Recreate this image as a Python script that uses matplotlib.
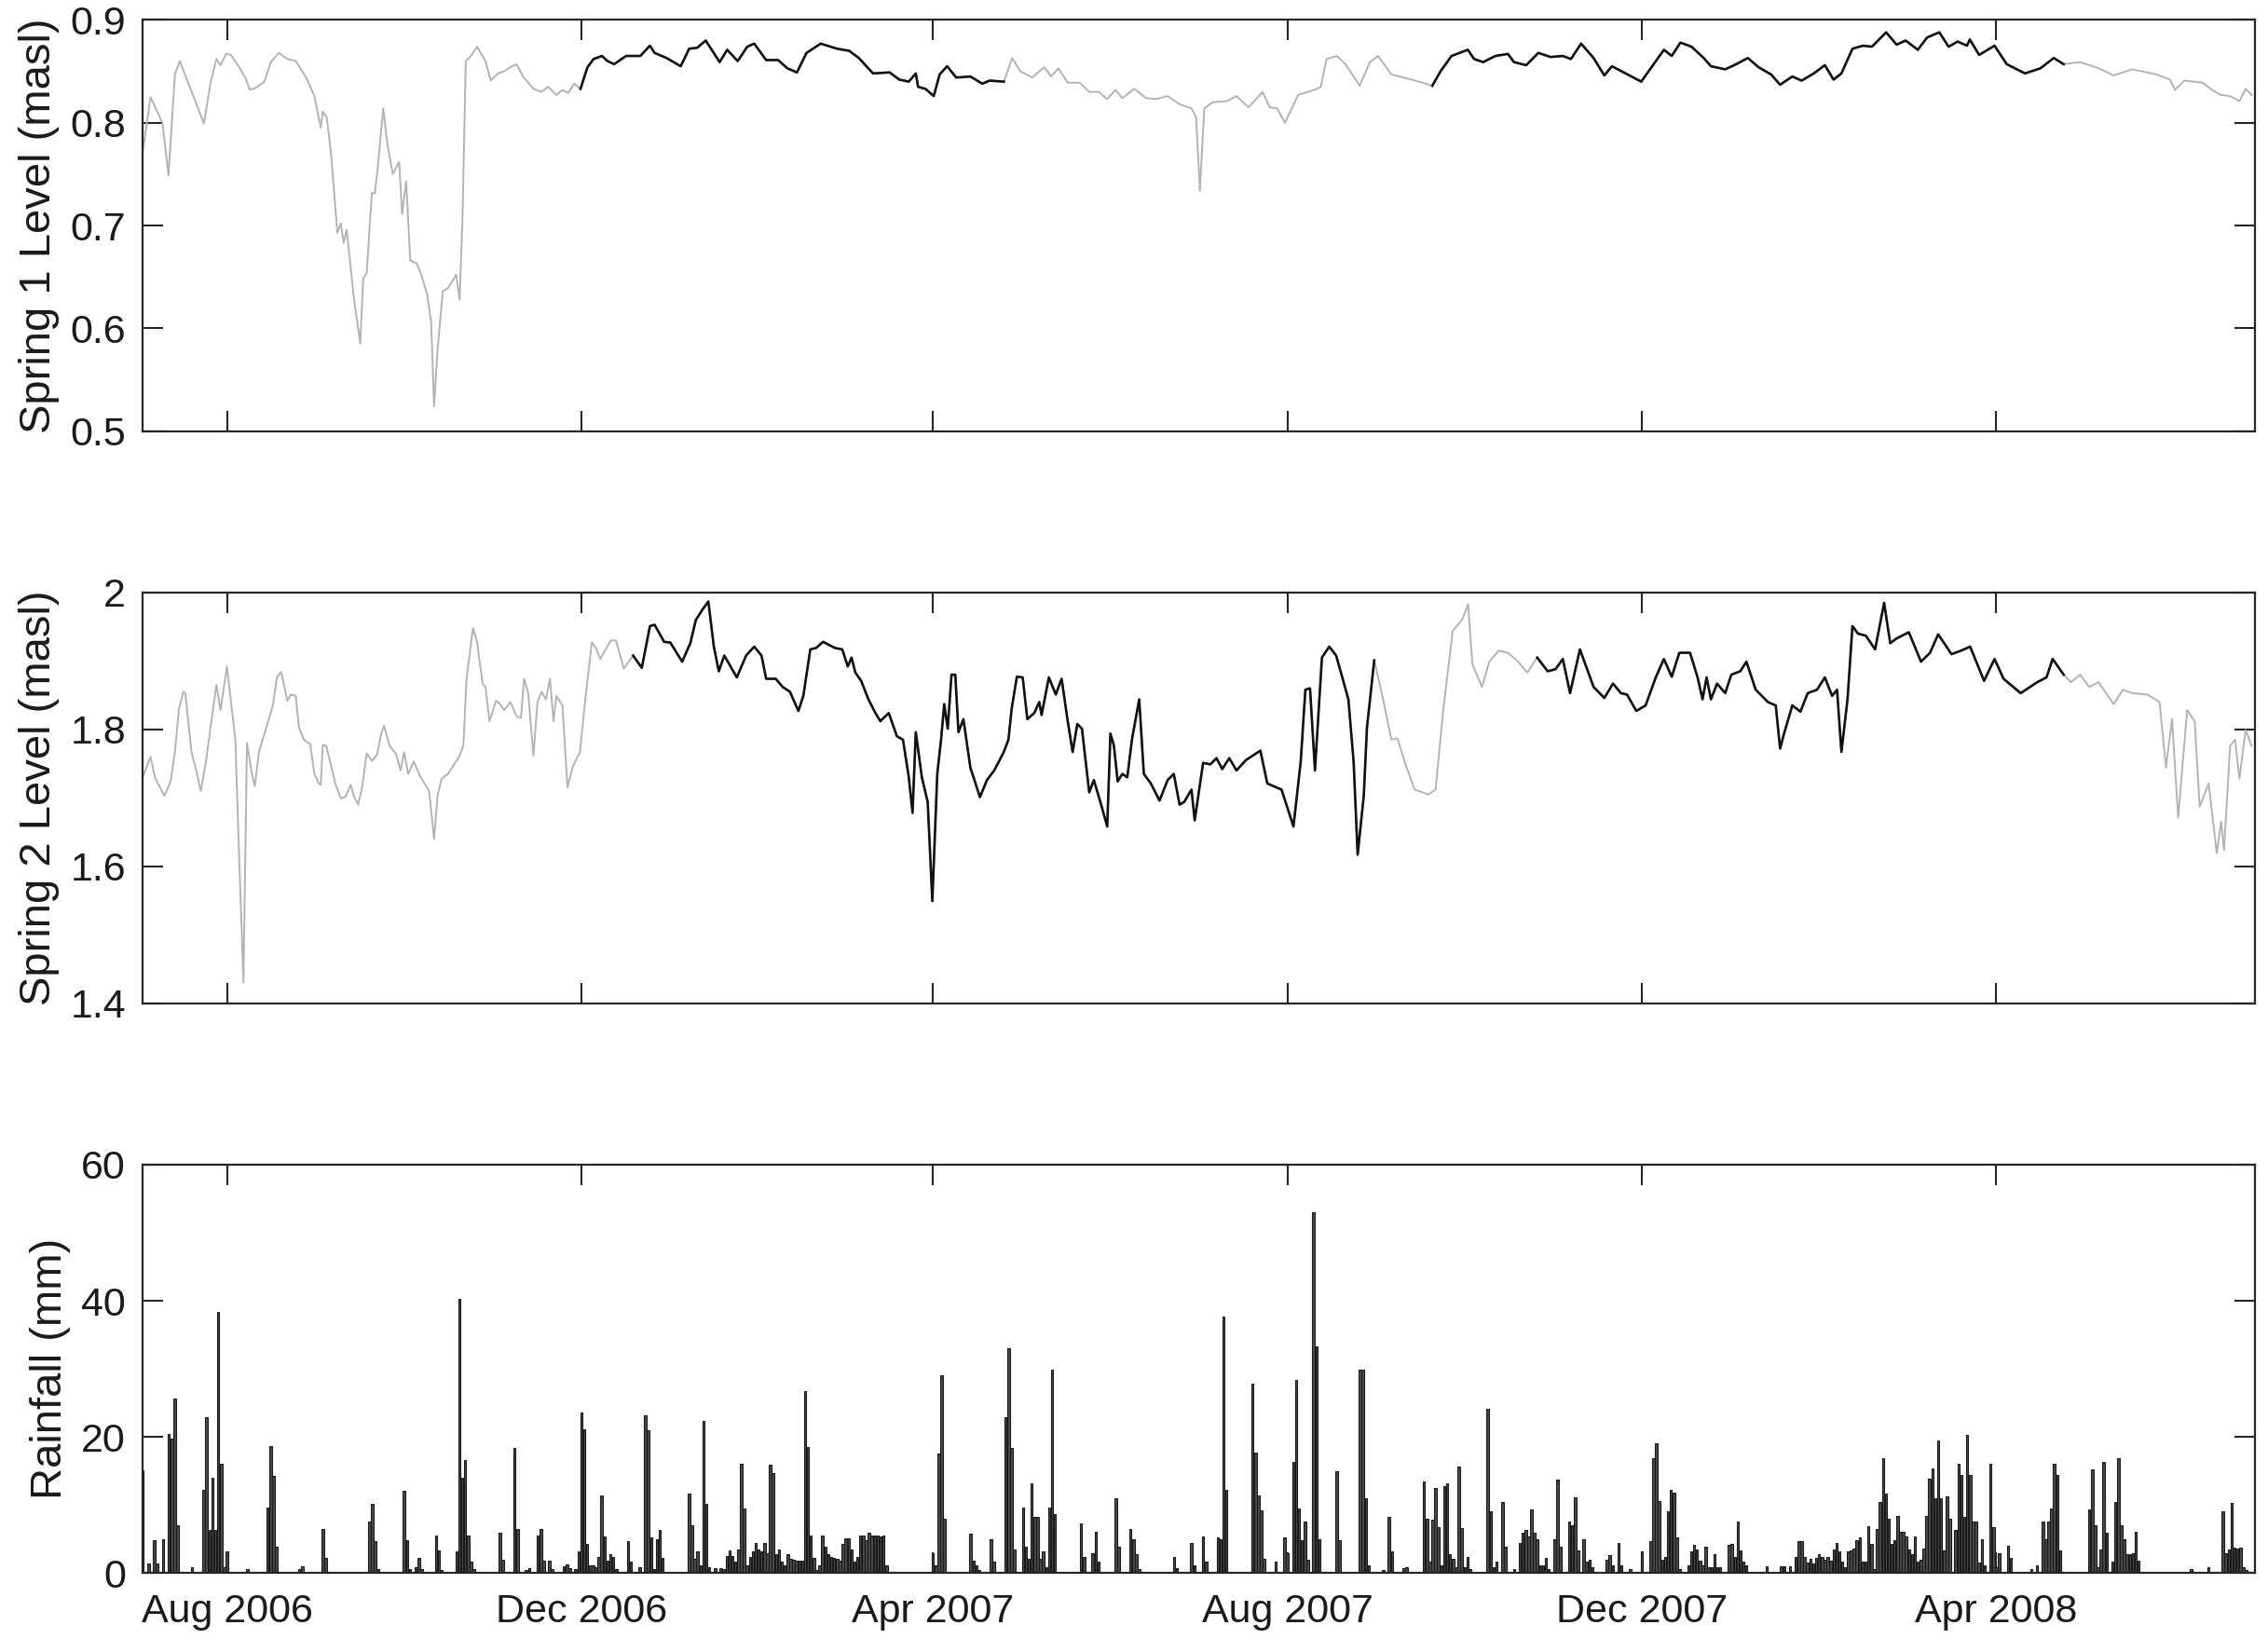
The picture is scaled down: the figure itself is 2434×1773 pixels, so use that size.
import numpy as np
import pandas as pd
import matplotlib
matplotlib.use("Agg")
import matplotlib.pyplot as plt
import matplotlib.dates as mdates

plt.rcParams['font.family'] = ['Liberation Sans', 'DejaVu Sans']

# ---------------- data ----------------
START = pd.Timestamp('2006-07-03')
END = pd.Timestamp('2008-06-29')

# Spring 1 level (masl): day offset from START, value
s1_day = [0, 2.7, 5.5, 6.8, 8.9, 11.1, 12.8, 21.1, 23.3, 25.4, 26.8, 28.7, 30.4, 33.0, 35.5, 36.9,
          39.0, 41.9, 44.1, 46.9, 49.8, 52.7, 56.3, 59.1, 61.3, 62.0, 63.4, 64.9, 67.0, 68.2, 69.2,
          70.2, 72.8, 74.9, 75.9, 77.1, 78.9, 79.9, 80.9, 82.8, 84.2, 86.1, 88.3, 89.3, 90.7, 92.1,
          94.3, 95.7, 97.9, 99.3, 100.3, 101.5, 103.3, 105.1, 107.9, 109.1, 110.1, 111.2, 113.0,
          115.1, 118.0, 119.8, 122.3, 124.4, 126.5, 128.7, 130.9, 134.5, 137.3, 139.5, 142.4, 144.5,
          146.5, 148.5, 150.7, 153.1, 155.2, 158.1, 160.0, 162.3, 166.4, 171.3, 174.6, 176.2, 180.3,
          185.2, 188.1, 190.9, 193.8, 198.6, 201.2, 204.8, 208.1, 210.5, 214.6, 218.7, 221.9, 225.2,
          228.5, 233.4, 239.1, 243.2, 246.5, 251.4, 257.1, 260.4, 263.7, 266.1, 266.9, 269.4, 272.3,
          274.3, 276.9, 280.0, 284.9, 289.0, 291.5, 296.4, 299.3, 302.1, 306.2, 310.3, 312.7, 315.2,
          318.4, 322.5, 325.8, 329.1, 332.0, 334.8, 337.2, 341.3, 345.4, 348.7, 352.8, 356.9, 361.0,
          362.6, 363.9, 365.4, 368.3, 373.2, 376.5, 380.6, 385.5, 387.9, 390.4, 393.2, 397.7, 401.0,
          404.3, 405.5, 407.5, 411.0, 414.0, 418.9, 422.4, 425.2, 429.8, 434.0, 439.3, 443.9, 446.7,
          450.5, 456.1, 458.3, 461.4, 465.6, 469.9, 472.0, 476.2, 480.4, 484.6, 488.8, 491.6, 495.1,
          499.4, 503.1, 505.7, 515.8, 523.6, 526.3, 529.3, 533.1, 537.3, 539.8, 544.7, 547.8, 552.5,
          556.2, 560.5, 563.6, 567.8, 571.0, 575.2, 579.0, 582.0, 584.7, 588.5, 592.1, 595.2, 600.1,
          603.7, 606.8, 611.0, 614.2, 618.4, 621.6, 624.7, 627.9, 628.9, 632.1, 637.4, 641.6, 647.9,
          653.2, 657.8, 661.2, 666.9, 673.2, 678.4, 684.8, 693.2, 697.8, 699.5, 702.7, 709.0, 712.2,
          715.4, 718.5, 721.7, 723.8, 725.9]
s1_val = [0.771, 0.825, 0.808, 0.800, 0.749, 0.847, 0.860, 0.799, 0.838, 0.862, 0.856, 0.867, 0.866,
          0.855, 0.843, 0.832, 0.834, 0.840, 0.859, 0.868, 0.862, 0.860, 0.844, 0.826, 0.795, 0.811,
          0.805, 0.768, 0.693, 0.702, 0.683, 0.696, 0.627, 0.585, 0.648, 0.654, 0.732, 0.731, 0.756,
          0.814, 0.780, 0.750, 0.762, 0.711, 0.743, 0.666, 0.663, 0.654, 0.633, 0.606, 0.524, 0.579,
          0.636, 0.639, 0.652, 0.628, 0.708, 0.860, 0.865, 0.874, 0.860, 0.841, 0.848, 0.850, 0.854,
          0.857, 0.845, 0.833, 0.830, 0.835, 0.827, 0.832, 0.829, 0.838, 0.833, 0.854, 0.862, 0.865,
          0.860, 0.857, 0.865, 0.865, 0.875, 0.868, 0.863, 0.855, 0.872, 0.873, 0.880, 0.859, 0.871,
          0.860, 0.874, 0.877, 0.861, 0.861, 0.853, 0.849, 0.868, 0.877, 0.872, 0.870, 0.863, 0.848,
          0.849, 0.842, 0.840, 0.848, 0.835, 0.833, 0.826, 0.847, 0.855, 0.844, 0.845, 0.838, 0.841,
          0.840, 0.863, 0.850, 0.844, 0.854, 0.845, 0.853, 0.839, 0.839, 0.830, 0.830, 0.823, 0.832,
          0.824, 0.833, 0.824, 0.823, 0.826, 0.818, 0.814, 0.805, 0.734, 0.814, 0.820, 0.821, 0.826,
          0.815, 0.830, 0.815, 0.814, 0.800, 0.827, 0.830, 0.833, 0.835, 0.862, 0.865, 0.857, 0.836,
          0.859, 0.865, 0.847, 0.844, 0.840, 0.836, 0.850, 0.865, 0.871, 0.862, 0.859, 0.865, 0.867,
          0.859, 0.856, 0.868, 0.864, 0.865, 0.862, 0.877, 0.863, 0.846, 0.855, 0.840, 0.871, 0.865,
          0.878, 0.874, 0.863, 0.855, 0.852, 0.856, 0.863, 0.854, 0.847, 0.837, 0.845, 0.841, 0.848,
          0.856, 0.842, 0.848, 0.872, 0.875, 0.874, 0.888, 0.876, 0.880, 0.871, 0.883, 0.888, 0.874,
          0.879, 0.875, 0.881, 0.866, 0.875, 0.857, 0.848, 0.853, 0.863, 0.857, 0.859, 0.853, 0.846,
          0.852, 0.847, 0.842, 0.832, 0.841, 0.839, 0.832, 0.827, 0.826, 0.821, 0.833, 0.827]
s1_black = [(150.7, 296.4), (443.9, 661.2)]

# Spring 2 level (masl)
s2_day = [0, 1.7, 2.7, 4.2, 7.5, 9.6, 11.1, 12.5, 14.0, 14.7, 16.8, 18.2, 20.0, 21.8, 23.3, 25.4,
          26.8, 29.0, 30.4, 31.9, 33.0, 34.7, 35.9, 37.6, 38.6, 40.0, 42.6, 44.8, 46.2, 47.7, 49.8,
          51.0, 52.7, 53.8, 55.5, 57.7, 59.1, 60.6, 61.3, 62.0, 63.2, 64.9, 66.3, 68.2, 69.9, 71.6,
          72.8, 74.2, 75.6, 77.1, 78.9, 80.7, 82.1, 83.1, 85.0, 87.1, 88.8, 90.0, 91.4, 93.3, 95.7,
          98.6, 100.3, 101.5, 102.9, 105.1, 107.2, 108.9, 110.4, 111.5, 113.7, 115.1, 117.0, 118.0,
          119.4, 121.6, 123.0, 124.4, 126.6, 128.7, 130.2, 131.3, 132.7, 134.5, 135.9, 137.3, 138.8,
          140.2, 141.4, 142.4, 144.5, 146.2, 148.1, 150.5, 152.4, 154.6, 156.0, 157.5, 161.1, 162.9,
          165.6, 168.8, 171.8, 174.6, 176.2, 179.5, 181.6, 185.7, 188.5, 190.4, 192.5, 194.7, 196.6,
          198.3, 200.2, 204.5, 207.7, 210.5, 213.0, 214.6, 217.9, 220.3, 222.8, 225.7, 227.4, 229.8,
          231.8, 234.2, 238.3, 240.8, 242.7, 244.0, 245.3, 247.3, 249.8, 252.2, 253.9, 256.8, 259.6,
          261.7, 263.7, 265.0, 266.1, 268.2, 270.2, 271.8, 273.5, 274.8, 275.9, 277.1, 278.4, 279.7,
          280.8, 282.5, 284.9, 288.2, 290.6, 293.1, 296.4, 298.0, 299.1, 300.9, 302.9, 304.5, 306.9,
          308.6, 309.4, 311.9, 314.3, 316.3, 318.4, 320.1, 321.7, 323.3, 325.8, 327.4, 329.9, 332.0,
          333.1, 334.3, 335.6, 337.2, 338.9, 340.5, 343.0, 344.6, 347.0, 350.0, 352.8, 354.9, 356.9,
          358.5, 361.0, 362.1, 365.0, 367.5, 369.6, 371.6, 374.0, 376.5, 379.7, 384.7, 387.1, 392.0,
          396.1, 398.6, 400.2, 401.8, 403.5, 405.9, 408.4, 410.8, 413.3, 415.0, 416.8, 418.2, 420.3,
          421.4, 423.9, 426.7, 429.8, 431.9, 434.5, 437.8, 442.5, 445.0, 447.7, 450.9, 454.1, 456.2,
          457.7, 461.0, 463.5, 466.7, 469.9, 473.0, 476.6, 480.0, 483.6, 486.3, 488.8, 491.3, 494.7,
          499.4, 503.1, 506.1, 508.8, 510.9, 514.1, 517.3, 520.8, 523.6, 526.3, 528.9, 532.6, 535.2,
          536.9, 538.3, 539.8, 541.9, 544.7, 546.8, 549.9, 552.0, 555.2, 559.4, 562.1, 563.6, 565.1,
          567.8, 570.6, 573.1, 576.3, 579.0, 581.5, 583.2, 584.7, 586.8, 588.5, 590.4, 593.1, 596.3,
          599.4, 601.5, 603.7, 607.9, 612.1, 615.2, 618.0, 622.6, 625.8, 629.0, 633.8, 637.4, 640.5,
          646.4, 652.1, 655.3, 657.4, 661.2, 663.7, 666.9, 670.0, 673.2, 678.4, 681.6, 684.8, 690.0,
          694.2, 696.4, 698.5, 700.6, 703.7, 706.3, 708.0, 711.1, 713.9, 715.4, 716.4, 718.5, 720.2,
          721.7, 723.8, 725.9]
s2_val = [1.730, 1.749, 1.760, 1.730, 1.703, 1.724, 1.767, 1.830, 1.855, 1.853, 1.767, 1.744, 1.710,
          1.753, 1.801, 1.865, 1.828, 1.892, 1.840, 1.785, 1.640, 1.430, 1.780, 1.735, 1.717, 1.767,
          1.803, 1.835, 1.876, 1.884, 1.842, 1.851, 1.849, 1.803, 1.785, 1.778, 1.735, 1.721, 1.719,
          1.777, 1.776, 1.746, 1.721, 1.699, 1.702, 1.719, 1.701, 1.690, 1.717, 1.765, 1.754, 1.763,
          1.794, 1.805, 1.776, 1.765, 1.740, 1.767, 1.735, 1.753, 1.730, 1.710, 1.640, 1.703, 1.728,
          1.735, 1.749, 1.760, 1.776, 1.876, 1.948, 1.928, 1.867, 1.862, 1.812, 1.842, 1.837, 1.828,
          1.840, 1.819, 1.817, 1.874, 1.853, 1.762, 1.840, 1.855, 1.844, 1.874, 1.812, 1.849, 1.835,
          1.715, 1.746, 1.767, 1.846, 1.927, 1.919, 1.903, 1.930, 1.930, 1.889, 1.908, 1.890, 1.951,
          1.953, 1.928, 1.927, 1.899, 1.926, 1.960, 1.974, 1.987, 1.921, 1.885, 1.908, 1.876, 1.908,
          1.921, 1.908, 1.874, 1.874, 1.862, 1.855, 1.827, 1.849, 1.917, 1.919, 1.928, 1.919, 1.917,
          1.892, 1.905, 1.883, 1.871, 1.844, 1.824, 1.812, 1.824, 1.790, 1.785, 1.730, 1.678, 1.796,
          1.730, 1.694, 1.549, 1.735, 1.785, 1.837, 1.801, 1.880, 1.880, 1.796, 1.815, 1.744, 1.701,
          1.726, 1.740, 1.767, 1.785, 1.830, 1.877, 1.876, 1.815, 1.824, 1.840, 1.821, 1.876, 1.851,
          1.874, 1.812, 1.767, 1.808, 1.801, 1.708, 1.726, 1.690, 1.658, 1.794, 1.776, 1.724, 1.735,
          1.730, 1.785, 1.844, 1.735, 1.721, 1.696, 1.726, 1.735, 1.690, 1.694, 1.712, 1.667, 1.751,
          1.749, 1.758, 1.742, 1.758, 1.740, 1.755, 1.769, 1.721, 1.712, 1.658, 1.753, 1.858, 1.860,
          1.740, 1.905, 1.921, 1.908, 1.870, 1.844, 1.753, 1.617, 1.703, 1.803, 1.901, 1.849, 1.785,
          1.787, 1.751, 1.712, 1.705, 1.712, 1.830, 1.944, 1.960, 1.983, 1.895, 1.862, 1.899, 1.915,
          1.912, 1.901, 1.883, 1.905, 1.885, 1.888, 1.903, 1.853, 1.917, 1.862, 1.846, 1.867, 1.853,
          1.851, 1.827, 1.835, 1.876, 1.903, 1.877, 1.912, 1.912, 1.876, 1.844, 1.876, 1.844, 1.867,
          1.853, 1.880, 1.885, 1.899, 1.858, 1.840, 1.835, 1.772, 1.796, 1.835, 1.826, 1.853, 1.858,
          1.876, 1.849, 1.858, 1.767, 1.844, 1.951, 1.940, 1.937, 1.917, 1.985, 1.926, 1.933, 1.942,
          1.899, 1.912, 1.939, 1.910, 1.915, 1.921, 1.871, 1.903, 1.874, 1.853, 1.869, 1.876, 1.903,
          1.880, 1.869, 1.880, 1.862, 1.869, 1.837, 1.858, 1.853, 1.851, 1.840, 1.744, 1.815, 1.671,
          1.828, 1.812, 1.687, 1.721, 1.619, 1.665, 1.624, 1.776, 1.785, 1.728, 1.799, 1.776]
s2_black = [(168.8, 423.9), (480.0, 661.2)]

# Daily rainfall (mm): day offset from START, amount
rain_day = [0, 2, 4, 5, 7, 9, 10, 11, 12, 17, 21, 22, 23, 24, 25, 26, 27, 28, 29, 36, 43, 44, 45, 46,
            54, 55, 62, 63, 78, 79, 80, 81, 90, 91, 92, 94, 95, 96, 101, 102, 103, 108, 109, 110, 111,
            112, 113, 114, 123, 124, 128, 129, 132, 133, 136, 137, 138, 140, 141, 145, 146, 147, 149,
            150, 151, 152, 153, 154, 155, 156, 157, 158, 159, 160, 161, 162, 163, 167, 168, 171, 173,
            174, 175, 176, 177, 178, 179, 188, 189, 190, 191, 192, 193, 194, 195, 197, 199, 200, 201,
            202, 203, 204, 205, 206, 207, 208, 209, 210, 211, 212, 213, 214, 215, 216, 217, 218, 219,
            220, 221, 222, 223, 224, 225, 226, 227, 228, 229, 230, 231, 232, 233, 234, 235, 236, 237,
            238, 239, 240, 241, 242, 243, 244, 245, 246, 247, 248, 249, 250, 251, 252, 253, 254, 255,
            256, 272, 273, 274, 275, 276, 285, 286, 287, 288, 292, 293, 297, 298, 299, 300, 303, 304,
            305, 306, 307, 308, 309, 310, 311, 312, 313, 314, 323, 324, 327, 328, 329, 335, 336, 340,
            341, 342, 343, 355, 356, 361, 362, 365, 366, 370, 371, 372, 373, 382, 383, 384, 385, 386,
            390, 393, 394, 396, 397, 398, 399, 400, 401, 403, 404, 405, 411, 412, 419, 420, 421, 422,
            427, 429, 430, 434, 435, 441, 442, 443, 444, 445, 446, 447, 448, 449, 450, 451, 452, 453,
            454, 455, 456, 457, 463, 464, 465, 466, 468, 469, 472, 474, 475, 476, 477, 478, 479, 480,
            481, 482, 483, 484, 486, 487, 488, 491, 492, 493, 494, 496, 497, 498, 499, 504, 505, 506,
            508, 509, 512, 516, 519, 520, 521, 522, 523, 524, 525, 526, 527, 528, 529, 532, 533, 534,
            535, 536, 537, 538, 539, 540, 541, 542, 543, 546, 547, 548, 549, 550, 551, 552, 559, 564,
            565, 567, 569, 570, 571, 572, 573, 574, 575, 576, 577, 578, 579, 580, 581, 582, 583, 584,
            585, 586, 587, 588, 589, 590, 591, 592, 593, 594, 595, 596, 597, 598, 599, 600, 601, 602,
            603, 604, 605, 606, 607, 608, 609, 610, 611, 612, 613, 614, 615, 616, 617, 618, 619, 620,
            621, 622, 623, 624, 625, 626, 627, 628, 629, 630, 631, 632, 633, 634, 636, 637, 638, 639,
            642, 643, 650, 652, 654, 655, 656, 657, 658, 659, 660, 670, 671, 672, 673, 674, 675, 676,
            678, 679, 680, 681, 682, 683, 684, 685, 686, 687, 705, 711, 716, 717, 718, 719, 720, 721,
            722, 723, 724]
rain_mm = [15.1, 1.4, 4.8, 1.4, 5.0, 20.4, 19.7, 25.6, 7.0, 0.8, 12.2, 22.9, 6.3, 14.0, 6.3, 38.3,
           16.1, 0.9, 3.1, 0.5, 9.6, 18.7, 14.2, 3.9, 0.5, 1.0, 6.5, 2.2, 7.6, 10.2, 4.7, 0.6, 12.0,
           4.8, 0.5, 0.8, 2.2, 0.5, 5.5, 3.3, 0.4, 3.1, 40.3, 14.0, 16.6, 5.5, 1.6, 0.5, 5.9, 1.9,
           18.3, 6.5, 0.4, 0.7, 5.5, 6.4, 1.8, 1.8, 0.5, 1.0, 1.3, 0.7, 0.6, 3.1, 23.6, 21.1, 4.2,
           1.1, 1.1, 0.9, 2.4, 11.4, 5.4, 1.8, 2.7, 2.3, 0.5, 4.7, 1.6, 0.9, 23.2, 21.0, 5.2, 0.5,
           4.9, 6.3, 2.2, 11.7, 7.0, 2.0, 3.1, 1.1, 22.4, 10.2, 0.9, 0.7, 0.7, 0.5, 2.5, 3.3, 2.5,
           1.6, 3.5, 16.0, 9.4, 1.1, 2.4, 3.2, 4.4, 3.5, 3.1, 4.4, 2.9, 15.9, 14.6, 2.7, 3.5, 1.6,
           1.1, 2.7, 2.0, 1.9, 1.8, 1.8, 1.8, 26.7, 18.5, 5.5, 2.2, 0.4, 1.1, 5.5, 3.8, 2.7, 2.4,
           2.2, 2.0, 1.8, 4.3, 5.1, 5.1, 3.5, 1.6, 2.3, 5.5, 5.5, 4.8, 5.9, 5.5, 5.5, 5.5, 5.4, 5.5,
           1.1, 2.9, 1.1, 17.5, 29.0, 7.9, 5.8, 1.8, 1.1, 0.4, 5.0, 1.6, 22.9, 33.0, 18.3, 3.4, 9.6,
           3.9, 2.0, 13.1, 8.2, 8.2, 2.0, 3.1, 0.9, 9.6, 29.9, 8.7, 7.3, 2.3, 2.9, 6.1, 1.6, 10.9,
           3.9, 6.4, 4.9, 2.7, 0.5, 2.3, 0.7, 4.4, 1.1, 5.4, 1.6, 5.2, 5.0, 37.7, 12.2, 27.8, 17.7,
           11.4, 9.2, 2.0, 1.6, 5.2, 2.9, 16.3, 28.4, 9.4, 4.8, 7.6, 1.9, 53.0, 33.3, 4.9, 14.9, 4.8,
           29.9, 29.9, 11.0, 1.1, 0.4, 8.2, 3.2, 0.7, 0.9, 13.4, 7.9, 1.6, 7.8, 12.5, 6.7, 1.1, 12.8,
           13.1, 2.7, 2.0, 0.9, 15.6, 6.6, 0.8, 2.4, 0.5, 24.1, 9.1, 0.9, 1.6, 10.4, 3.9, 0.5, 4.4,
           5.9, 6.3, 5.4, 9.3, 5.9, 5.0, 1.1, 1.1, 2.2, 0.5, 4.9, 13.7, 3.9, 7.6, 7.0, 11.1, 3.3, 5.0,
           1.6, 1.9, 0.9, 1.9, 2.6, 1.1, 4.4, 1.1, 0.5, 3.1, 4.7, 16.9, 19.1, 10.5, 1.9, 2.4, 9.1,
           12.2, 11.8, 5.2, 0.5, 1.1, 3.2, 4.1, 3.5, 1.8, 1.1, 3.9, 0.9, 0.9, 2.7, 0.8, 0.9, 4.1, 4.3,
           2.4, 7.6, 3.3, 1.6, 1.1, 1.0, 1.0, 1.0, 1.0, 2.4, 4.6, 4.6, 2.4, 1.5, 2.0, 1.4, 2.2, 2.7,
           2.4, 1.9, 2.4, 1.8, 3.5, 4.4, 3.1, 1.6, 0.9, 3.2, 3.3, 3.6, 4.8, 5.2, 1.6, 1.6, 6.8, 4.2,
           0.5, 6.4, 10.4, 16.9, 11.6, 7.9, 4.2, 4.8, 8.4, 6.1, 6.1, 5.4, 3.5, 2.7, 5.4, 1.6, 1.9,
           3.6, 8.4, 13.8, 15.4, 11.0, 19.4, 11.0, 3.3, 11.3, 7.9, 0.2, 6.3, 16.0, 14.4, 8.2, 20.3,
           14.4, 7.6, 7.6, 1.5, 4.9, 1.1, 16.0, 6.7, 0.9, 2.9, 4.0, 2.2, 0.5, 1.1, 7.6, 4.9, 7.5,
           9.5, 16.0, 14.4, 3.3, 9.3, 15.2, 7.0, 0.9, 3.5, 16.3, 5.9, 1.6, 10.4, 16.9, 7.0, 4.9, 2.7,
           2.7, 2.9, 6.1, 1.8, 0.5, 0.9, 9.0, 2.9, 3.5, 10.3, 3.7, 3.6, 3.7, 0.9, 0.4]

s1_ticks = [0.5, 0.6, 0.7, 0.8, 0.9]
s1_ticklabels = ['0.5', '0.6', '0.7', '0.8', '0.9']
s2_ticks = [1.4, 1.6, 1.8, 2.0]
s2_ticklabels = ['1.4', '1.6', '1.8', '2']
rain_ticks = [0, 20, 40, 60]
rain_ticklabels = ['0', '20', '40', '60']
month_ticks = ['2006-08-01', '2006-12-01', '2007-04-01', '2007-08-01', '2007-12-01', '2008-04-01']

# ---------------- styling ----------------
GREY = '#b3b3b3'
BLACK = '#111111'
FRAME = '#262626'
TICK_FS = 31
LABEL_FS = 34


def to_dates(days):
    return START + pd.to_timedelta(np.asarray(days, dtype=float), unit='D')


def style_axis(ax, yticks, ylabels, ylim, ylabel, show_x):
    ax.set_xlim(START, END)
    ax.set_ylim(*ylim)
    ax.set_yticks(yticks)
    ax.set_yticklabels(ylabels)
    ax.set_xticks(pd.to_datetime(month_ticks))
    ax.xaxis.set_major_formatter(mdates.DateFormatter('%b %Y'))
    ax.tick_params(axis='both', which='major', direction='in', length=16, width=1.5,
                   color=FRAME, labelsize=TICK_FS, labelcolor='#1a1a1a',
                   top=True, right=True, pad=13)
    ax.tick_params(axis='x', labelbottom=show_x, pad=16)
    for sp in ax.spines.values():
        sp.set_linewidth(1.6)
        sp.set_color(FRAME)
    ax.set_ylabel(ylabel, fontsize=LABEL_FS, labelpad=8, color='#1a1a1a')


def plot_level(ax, days, vals, black):
    d = np.asarray(days, dtype=float)
    v = np.asarray(vals, dtype=float)
    ax.plot(to_dates(d), v, color=GREY, lw=1.4, zorder=2)
    for a, b in black:
        m = (d >= a) & (d <= b)
        ax.plot(to_dates(d[m]), v[m], color=BLACK, lw=1.9, zorder=3)


fig = plt.figure(figsize=(24.34, 17.73), dpi=100, facecolor='white')
left, width = 0.0629, 0.9313
ax1 = fig.add_axes([left, 0.7391, width, 0.2488])
ax2 = fig.add_axes([left, 0.3928, width, 0.2485])
ax3 = fig.add_axes([left, 0.0479, width, 0.2471])

plot_level(ax1, s1_day, s1_val, s1_black)
style_axis(ax1, s1_ticks, s1_ticklabels, (0.5, 0.9), 'Spring 1 Level (masl)', False)

plot_level(ax2, s2_day, s2_val, s2_black)
style_axis(ax2, s2_ticks, s2_ticklabels, (1.4, 2.0), 'Spring 2 Level (masl)', False)

ax3.bar(to_dates(rain_day), rain_mm, width=0.8, color='#4a4a4a', edgecolor='#1a1a1a',
        linewidth=0.8, zorder=2)
style_axis(ax3, rain_ticks, rain_ticklabels, (0, 60), 'Rainfall (mm)', True)

fig.savefig('out.png', dpi=100, facecolor='white')
